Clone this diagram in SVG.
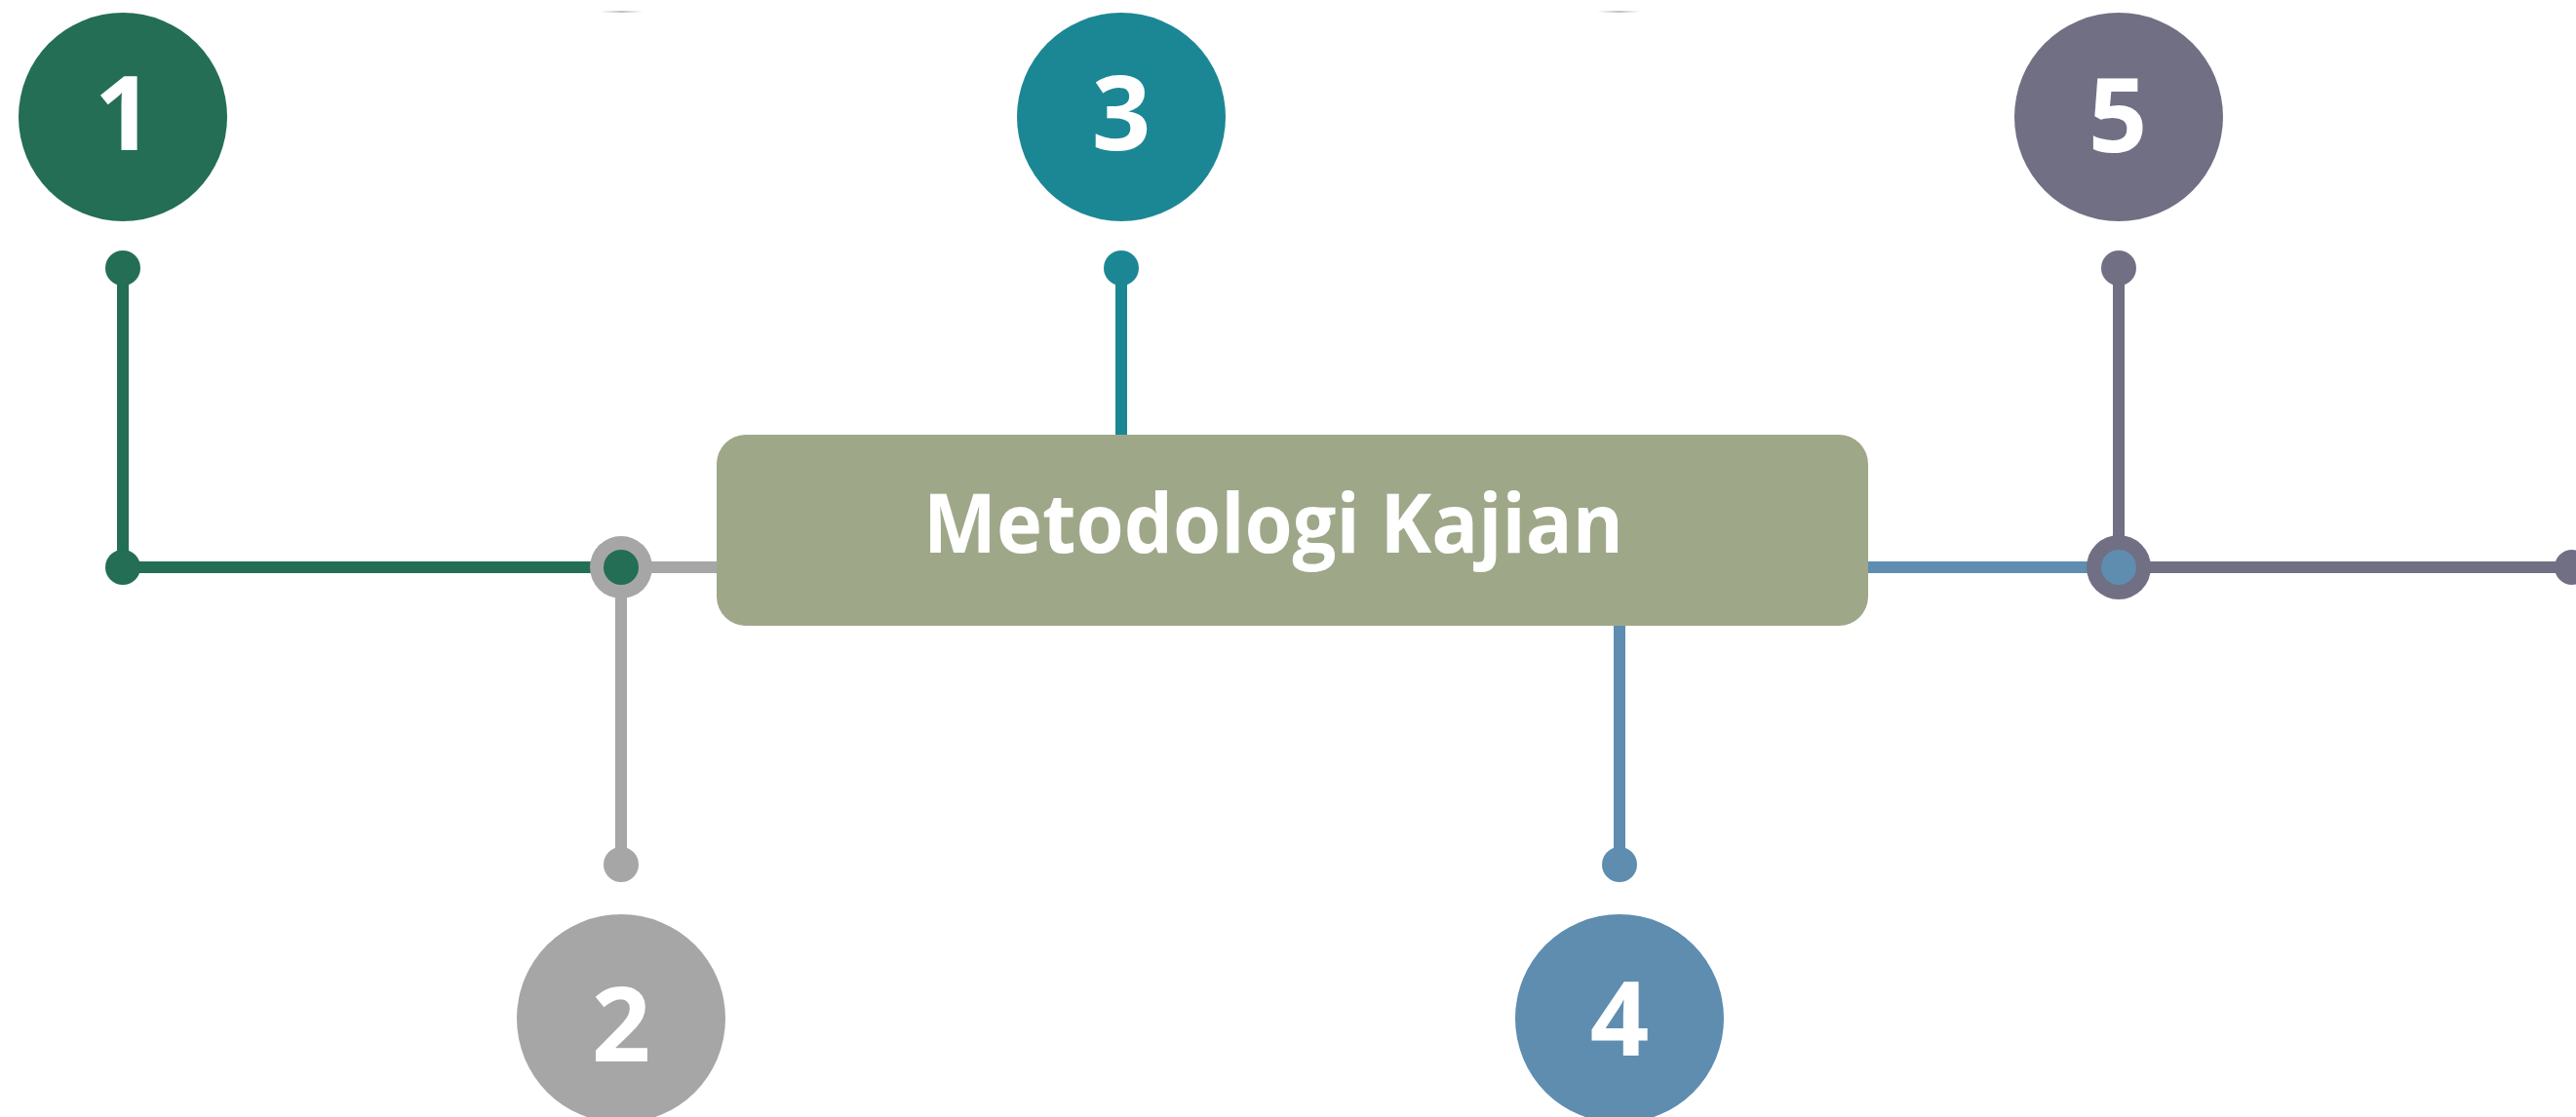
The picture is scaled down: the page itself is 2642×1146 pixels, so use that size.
<svg xmlns="http://www.w3.org/2000/svg" width="2642" height="1146" viewBox="0 0 2642 1146">
  <style>
    .num { font-family: "Open Sans", "Liberation Sans", sans-serif; font-weight: 700; font-size: 106px; fill: #ffffff; text-anchor: middle; }
    .title { font-family: "Open Sans", "Liberation Sans", sans-serif; font-weight: 700; font-size: 84px; fill: #ffffff; }
    .ln { fill: none; stroke-width: 12; }
  </style>
  <defs>
    <linearGradient id="faint" x1="0" y1="0" x2="1" y2="0">
      <stop offset="0" stop-color="#bdbdbd" stop-opacity="0"/>
      <stop offset="0.5" stop-color="#b0b0b0" stop-opacity="0.8"/>
      <stop offset="1" stop-color="#bdbdbd" stop-opacity="0"/>
    </linearGradient>
  </defs>
  <rect x="0" y="0" width="2642" height="1146" fill="#ffffff"/>
  <g id="faint-marks">
    <rect x="615" y="11" width="45" height="2" fill="url(#faint)"/>
    <rect x="1638" y="11" width="45" height="2" fill="url(#faint)"/>
  </g>
  <g id="connectors">
    <!-- 1 -->
    <line class="ln" x1="126" y1="275" x2="126" y2="582" stroke="#236E55"/>
    <line class="ln" x1="126" y1="582" x2="637" y2="582" stroke="#236E55"/>
    <circle cx="126" cy="275" r="18" fill="#236E55"/>
    <circle cx="126" cy="582" r="18" fill="#236E55"/>
    <!-- 2 -->
    <line class="ln" x1="637" y1="582" x2="745" y2="582" stroke="#A6A6A6"/>
    <line class="ln" x1="637" y1="582" x2="637" y2="887" stroke="#A6A6A6"/>
    <circle cx="637" cy="887" r="18" fill="#A6A6A6"/>
    <circle cx="637" cy="582" r="32" fill="#A6A6A6"/>
    <circle cx="637" cy="582" r="18" fill="#236E55"/>
    <!-- 3 -->
    <line class="ln" x1="1150" y1="275" x2="1150" y2="456" stroke="#1C8794"/>
    <circle cx="1150" cy="275" r="18" fill="#1C8794"/>
    <!-- 4 -->
    <line class="ln" x1="1661" y1="632" x2="1661" y2="887" stroke="#5E8DB0"/>
    <line class="ln" x1="1906" y1="582" x2="2173" y2="582" stroke="#5E8DB0"/>
    <circle cx="1661" cy="887" r="18" fill="#5E8DB0"/>
    <!-- 5 -->
    <line class="ln" x1="2173" y1="275" x2="2173" y2="582" stroke="#716F84"/>
    <line class="ln" x1="2173" y1="582" x2="2638" y2="582" stroke="#716F84"/>
    <circle cx="2173" cy="275" r="18" fill="#716F84"/>
    <circle cx="2638" cy="582" r="18" fill="#716F84"/>
    <circle cx="2173" cy="582" r="33" fill="#716F84"/>
    <circle cx="2173" cy="582" r="18" fill="#5E8DB0"/>
  </g>
  <g id="center">
    <rect x="735" y="446" width="1181" height="196" rx="30" ry="30" fill="#9EA889"/>
    <text class="title" x="947" y="567" textLength="718" lengthAdjust="spacingAndGlyphs">Metodologi Kajian</text>
  </g>
  <g id="node1">
    <circle cx="126" cy="120" r="107" fill="#236E55"/>
    <text class="num" x="127" y="154">1</text>
  </g>
  <g id="node2">
    <circle cx="637" cy="1045" r="107" fill="#A6A6A6"/>
    <text class="num" x="637" y="1089">2</text>
  </g>
  <g id="node3">
    <circle cx="1150" cy="120" r="107" fill="#1C8794"/>
    <text class="num" x="1150" y="154">3</text>
  </g>
  <g id="node4">
    <circle cx="1661" cy="1045" r="107" fill="#5E8DB0"/>
    <text class="num" x="1661" y="1083">4</text>
  </g>
  <g id="node5">
    <circle cx="2173" cy="120" r="107" fill="#716F84"/>
    <text class="num" x="2172" y="156">5</text>
  </g>
</svg>
